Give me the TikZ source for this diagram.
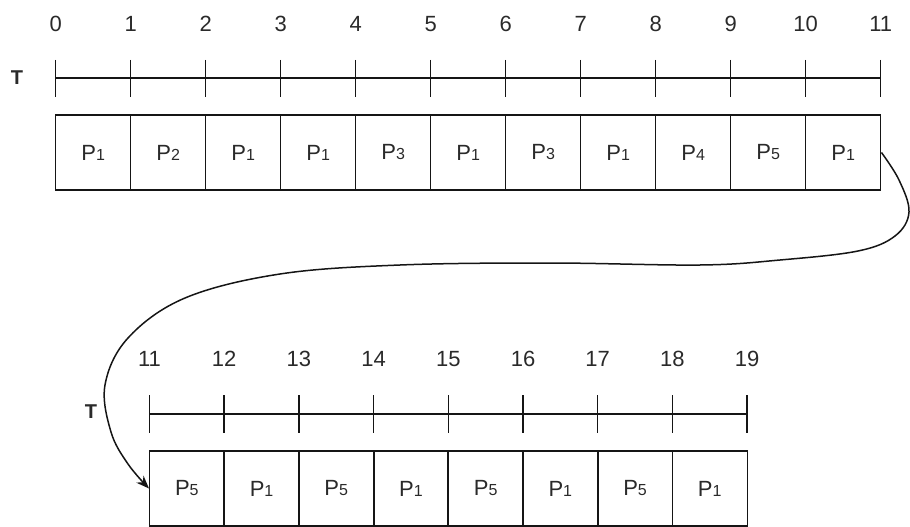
\documentclass[tikz,border=0pt]{standalone}
\usepackage{fontspec}
\setmainfont{Liberation Sans}
\usetikzlibrary{arrows.meta}
\definecolor{txt}{HTML}{2A2A2A}
\definecolor{ln}{HTML}{151515}
\newcommand{\pp}[1]{P{\fontsize{16}{16}\selectfont #1}}
\tikzset{
  cell/.style={draw=ln, line width=1.5pt, minimum width=75pt, minimum height=75pt, inner sep=0pt, text=txt, font=\fontsize{22}{22}\selectfont},
  lab/.style={text=txt, font=\fontsize{22}{22}\selectfont, inner sep=0pt},
  tlab/.style={text=txt, font=\fontsize{20}{20}\selectfont\bfseries, inner sep=0pt},
  axis/.style={draw=ln, line width=1.5pt},
  link/.style={draw=ln, line width=1.5pt, -{Stealth[length=13pt,width=10pt]}}
}
\begin{document}
\begin{tikzpicture}[x=1pt,y=-1pt]
\useasboundingbox (0,0) rectangle (910,527);
% ---------- top row ----------
\foreach \i/\p [count=\k] in {0/1,1/2,2/1,3/1,4/3,5/1,6/3,7/1,8/4,9/5,10/1}{
  \node[cell] (t\k) at ({55.7+75*\i+37.5},152.5) {\pp{\p}};
}
\foreach \i in {0,...,11}{
  \coordinate (ta\i) at ({55.7+75*\i},78);
  \node[lab] (tn\i) at ({55.7+75*\i},24) {\i};
  \draw[axis] ({55.7+75*\i},60) -- ({55.7+75*\i},97);
}
\draw[axis] (ta0) -- (ta11);
\node[tlab] (tT) at (17,78) {T};
% ---------- bottom row ----------
\foreach \i/\p [count=\k] in {0/5,1/1,2/5,3/1,4/5,5/1,6/5,7/1}{
  \node[cell] (b\k) at ({149.5+74.7*\i+37.35},488.5) {\pp{\p}};
}
\foreach \i [evaluate=\i as \n using int(\i+11)] in {0,...,8}{
  \coordinate (ba\i) at ({149.5+74.7*\i},414);
  \node[lab] (bn\i) at ({149.5+74.7*\i},359) {\n};
  \draw[axis] ({149.5+74.7*\i},395) -- ({149.5+74.7*\i},433);
}
\draw[axis] (ba0) -- (ba8);
\node[tlab] (bT) at (91,412) {T};
% ---------- connector ----------
\draw[link] plot[smooth, tension=0.6] coordinates {(t11.east) (899,180) (909,212) (895,236) (858,251) (780,260) (700,265) (550,263) (400,265) (280,274) (185,298) (128,338) (105,385) (111,432) (128,464) (149,488.5)};
\end{tikzpicture}
\end{document}
